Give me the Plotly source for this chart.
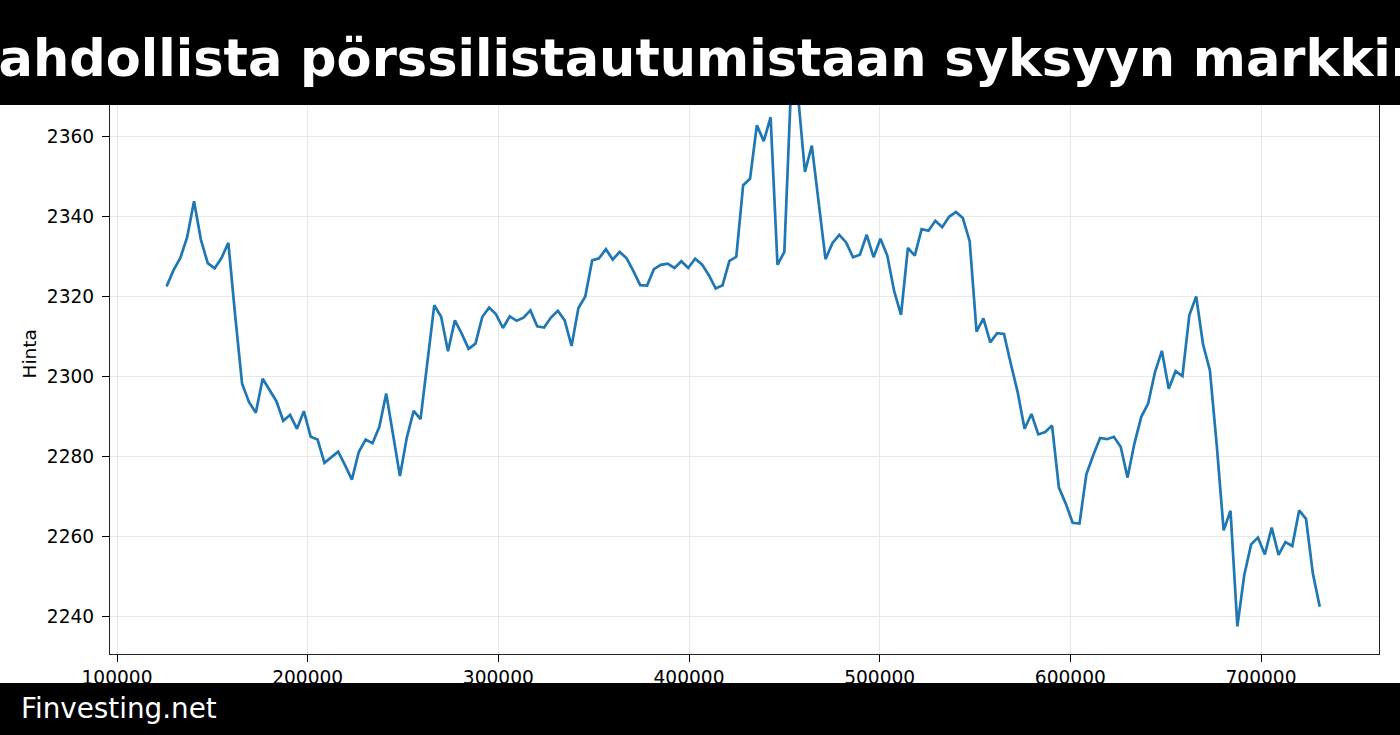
import plotly.graph_objects as go

# ---- data ----
x_values = [
    126000, 129600, 133200, 136800, 140400, 144000, 147600, 151200, 154800, 158400,
    162000, 165600, 169200, 172800, 176400, 180000, 183600, 187200, 190800, 194400,
    198000, 201600, 205200, 208800, 212400, 216000, 219600, 223200, 226800, 230400,
    234000, 237600, 241200, 244800, 248400, 252000, 255600, 259200, 262800, 266400,
    270000, 273600, 277200, 280800, 284400, 288000, 291600, 295200, 298800, 302400,
    306000, 309600, 313200, 316800, 320400, 324000, 327600, 331200, 334800, 338400,
    342000, 345600, 349200, 352800, 356400, 360000, 363600, 367200, 370800, 374400,
    378000, 381600, 385200, 388800, 392400, 396000, 399600, 403200, 406800, 410400,
    414000, 417600, 421200, 424800, 428400, 432000, 435600, 439200, 442800, 446400,
    450000, 453600, 457200, 460800, 464400, 468000, 471600, 475200, 478800, 482400,
    486000, 489600, 493200, 496800, 500400, 504000, 507600, 511200, 514800, 518400,
    522000, 525600, 529200, 532800, 536400, 540000, 543600, 547200, 550800, 554400,
    558000, 561600, 565200, 568800, 572400, 576000, 579600, 583200, 586800, 590400,
    594000, 597600, 601200, 604800, 608400, 612000, 615600, 619200, 622800, 626400,
    630000, 633600, 637200, 640800, 644400, 648000, 651600, 655200, 658800, 662400,
    666000, 669600, 673200, 676800, 680400, 684000, 687600, 691200, 694800, 698400,
    702000, 705600, 709200, 712800, 716400, 720000, 723600, 727200, 730800,
]

price = [
    2322.4, 2326.4, 2329.5, 2334.7, 2343.7, 2334.1, 2328.2, 2326.9, 2329.5, 2333.3,
    2315.0, 2298.1, 2293.5, 2290.8, 2299.3, 2296.6, 2293.7, 2288.8, 2290.3, 2286.8,
    2291.2, 2284.8, 2284.1, 2278.3, 2279.6, 2281.1, 2277.7, 2274.1, 2281.0, 2284.1,
    2283.2, 2287.3, 2295.6, 2285.4, 2275.0, 2284.6, 2291.3, 2289.2, 2303.5, 2317.7,
    2314.8, 2306.2, 2313.9, 2310.6, 2306.8, 2308.1, 2314.8, 2317.1, 2315.4, 2312.0,
    2314.9, 2313.8, 2314.6, 2316.4, 2312.4, 2312.1, 2314.6, 2316.3, 2313.9, 2307.5,
    2317.0, 2319.9, 2328.9, 2329.4, 2331.7, 2329.1, 2331.0, 2329.5, 2326.3, 2322.7,
    2322.6, 2326.7, 2327.8, 2328.1, 2327.0, 2328.7, 2327.0, 2329.3, 2327.9, 2325.2,
    2321.9, 2322.7, 2328.8, 2329.8, 2347.7, 2349.3, 2362.7, 2358.7, 2364.7, 2327.8,
    2331.0, 2373.5, 2370.0, 2351.0, 2357.6, 2344.0, 2329.2, 2333.2, 2335.3, 2333.4,
    2329.7, 2330.3, 2335.3, 2329.7, 2334.3, 2330.1, 2321.2, 2315.3, 2332.0, 2330.1,
    2336.7, 2336.3, 2338.8, 2337.2, 2339.8, 2341.0, 2339.5, 2333.7, 2311.1, 2314.4,
    2308.4, 2310.7, 2310.5, 2303.0, 2295.9, 2286.8, 2290.5, 2285.4, 2286.0, 2287.6,
    2272.1, 2268.1, 2263.3, 2263.1, 2275.4, 2280.2, 2284.5, 2284.2, 2284.8, 2282.3,
    2274.6, 2283.1, 2289.8, 2293.1, 2301.0, 2306.3, 2296.8, 2301.2, 2300.0, 2315.2,
    2319.9, 2307.9, 2301.4, 2282.6, 2261.4, 2266.3, 2237.4, 2250.2, 2257.9, 2259.6,
    2255.4, 2262.1, 2255.3, 2258.5, 2257.5, 2266.4, 2264.3, 2250.6, 2242.3,
]

title_text = "Yhtiö siirtää mahdollista pörssilistautumistaan syksyyn markkinoiden vuoksi"
y_label = "Hinta"
footer_text = "Finvesting.net"
x_tick_vals = [100000, 200000, 300000, 400000, 500000, 600000, 700000]
y_tick_vals = [2240, 2260, 2280, 2300, 2320, 2340, 2360]

W, H = 1400, 735
ML, MR, MT, MB = 110, 21, 55, 81
PW, PH = W - ML - MR, H - MT - MB


def px_to_paper_x(px):
    return (px - ML) / PW


def px_to_paper_y(py):
    return (H - MB - py) / PH


FONT = "DejaVu Sans, Verdana, sans-serif"
TICK_SIZE = 18.6

fig = go.Figure()
fig.add_trace(go.Scatter(
    x=x_values, y=price, mode="lines",
    line=dict(color="#1f77b4", width=2.7),
    showlegend=False, hoverinfo="skip",
))

fig.update_layout(
    width=W, height=H,
    margin=dict(l=ML, r=MR, t=MT, b=MB, pad=0),
    paper_bgcolor="white", plot_bgcolor="white",
    font=dict(family=FONT, size=18, color="black"),
    showlegend=False,
)

fig.update_xaxes(
    range=[96330, 761880],
    tickmode="array", tickvals=x_tick_vals,
    ticktext=[str(v) for v in x_tick_vals],
    ticks="outside", ticklen=7, tickwidth=1.2, tickcolor="black",
    showline=True, linecolor="#222222", linewidth=1.3, mirror=True,
    showgrid=True, gridcolor="#e8e8e8", gridwidth=1,
    zeroline=False,
    tickfont=dict(family=FONT, size=TICK_SIZE, color="black"),
)
fig.update_yaxes(
    range=[2230.5, 2380.25],
    tickmode="array", tickvals=y_tick_vals,
    ticktext=[str(v) for v in y_tick_vals],
    ticks="outside", ticklen=7, tickwidth=1.2, tickcolor="black",
    ticklabelstandoff=4,
    showline=True, linecolor="#222222", linewidth=1.3, mirror=True,
    showgrid=True, gridcolor="#e8e8e8", gridwidth=1,
    zeroline=False,
    tickfont=dict(family=FONT, size=TICK_SIZE, color="black"),
)

# black header and footer bars
fig.add_shape(type="rect", xref="paper", yref="paper",
              x0=-0.3, x1=1.3, y0=px_to_paper_y(105), y1=px_to_paper_y(-20),
              fillcolor="black", line=dict(width=0), layer="above")
fig.add_shape(type="rect", xref="paper", yref="paper",
              x0=-0.3, x1=1.3, y0=px_to_paper_y(760), y1=px_to_paper_y(683),
              fillcolor="black", line=dict(width=0), layer="above")

# title (centred, overflowing the canvas like the reference)
fig.add_annotation(
    text="<b>" + title_text + "</b>", xref="paper", yref="paper",
    x=px_to_paper_x(683), y=px_to_paper_y(59), xanchor="center", yanchor="middle",
    showarrow=False, font=dict(family=FONT, size=51, color="white"),
)
# y axis label
fig.add_annotation(
    text=y_label, xref="paper", yref="paper",
    x=px_to_paper_x(29), y=0.5, xanchor="center", yanchor="middle",
    textangle=-90, showarrow=False, font=dict(family=FONT, size=18.5, color="black"),
)
# footer text
fig.add_annotation(
    text=footer_text, xref="paper", yref="paper",
    x=px_to_paper_x(19), y=px_to_paper_y(708), xanchor="left", yanchor="middle",
    showarrow=False, font=dict(family=FONT, size=27.8, color="white"),
)

fig.write_html(
    "out.html",
    config={"displayModeBar": False},
    post_script="document.body.style.margin='0px';document.body.style.padding='0px';",
)
